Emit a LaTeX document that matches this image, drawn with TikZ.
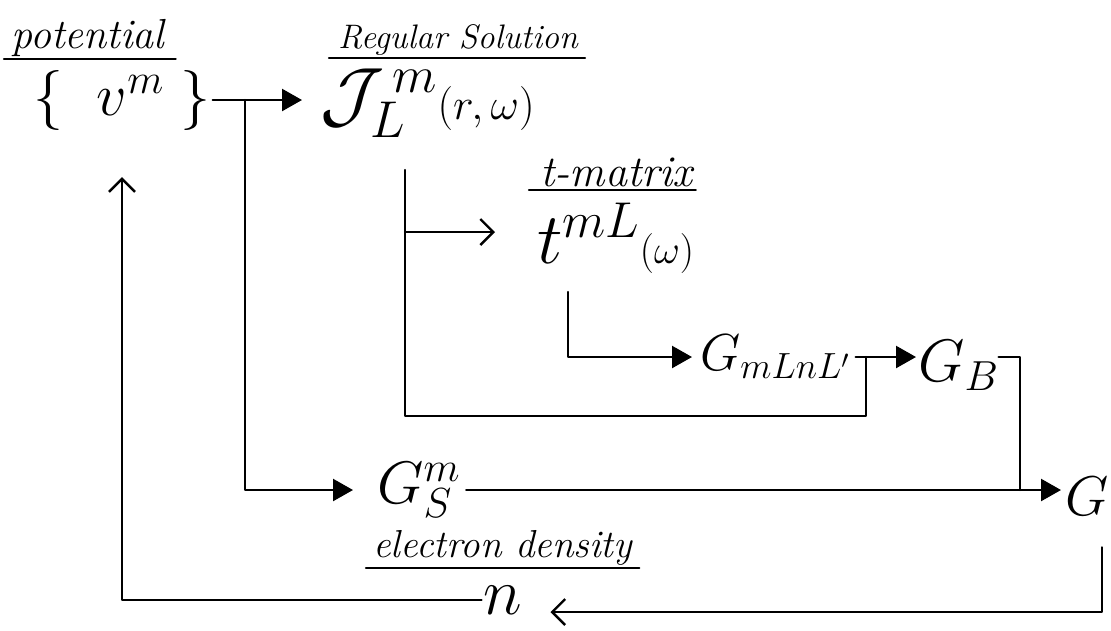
\RequirePackage{fix-cm}
\documentclass[tikz,border=0pt]{standalone}
\usetikzlibrary{arrows.meta}
\begin{document}
\begin{tikzpicture}[x=1pt,y=-1pt,line width=2.4pt,line cap=round,line join=round,
  lbl/.style={font=\fontsize{38}{38}\selectfont\itshape,inner sep=2pt},
  sym/.style={font=\fontsize{56}{56}\selectfont,inner sep=1pt},
  uline/.style={line width=2.2pt},
  farrow/.style={-{Triangle[length=20pt,width=22pt]}},
  oarrow/.style={-{Straight Barb[length=13pt,width=26pt]}}]
\useasboundingbox (0,0) rectangle (1111,630);
% labels
\node[lbl,anchor=base west,font=\fontsize{42}{42}\selectfont\itshape] (potlbl) at (8,48) {potential};
\node[lbl,anchor=base west,font=\fontsize{34}{34}\selectfont\itshape] (reglbl) at (335,48) {Regular Solution};
\node[lbl,anchor=base west,font=\fontsize{44}{44}\selectfont\itshape] (tmlbl) at (537,186) {t-matrix};
\node[lbl,anchor=base west,font=\fontsize{39}{39}\selectfont\itshape] (edlbl) at (370,557) {electron density};
\draw[uline] ([xshift=-4pt]potlbl.south west) -- ([xshift=8pt]potlbl.south east);
\draw[uline] ([xshift=-6pt]reglbl.south west) -- ([xshift=4pt]reglbl.south east);
\draw[uline] ([xshift=-8pt]tmlbl.south west) -- (tmlbl.south east);
\draw[uline] ([xshift=-4pt]edlbl.south west) -- ([xshift=4pt]edlbl.south east);
% symbols
\node[sym,font=\fontsize{60}{60}\selectfont] (vm) at (122,100) {$\{\;\; v^{m}\;\}$};
\node[sym,anchor=west] (J) at (318,103) {{\fontsize{74}{74}\selectfont$\mathcal{J}^{\,m}_{L}$}{\fontsize{44}{44}\selectfont$(r,\omega)$}};
\node[sym,anchor=west] (t) at (535,238) {{\fontsize{72}{72}\selectfont$t^{mL}$}{\fontsize{40}{40}\selectfont$(\omega)$}};
\node[sym,anchor=west,font=\fontsize{52}{52}\selectfont] (Gm) at (698,357) {$G_{mLnL'}$};
\node[sym,anchor=west,font=\fontsize{60}{60}\selectfont] (GB) at (916,365) {$G_{B}$};
\node[sym,anchor=west,font=\fontsize{60}{60}\selectfont] (GS) at (375,490) {$G^{m}_{S\,}$};
\node[sym,anchor=west,font=\fontsize{56}{56}\selectfont] (G) at (1063,496) {$G$};
\node[sym,font=\fontsize{66}{66}\selectfont] (n) at (503,600) {$n$};
% junction coordinates
\coordinate (tv) at (245,100);
\coordinate (jd) at (405,170);
\coordinate (jt) at (405,232);
\coordinate (td) at (568,292);
\coordinate (tb) at (866,357);
\coordinate (gj) at (1020,490);
\coordinate (gc) at (1102,612);
% connectors
\draw[farrow,shorten >=16pt] (vm.east) -- (vm.east -| J.west);
\draw[farrow,shorten >=22pt] (tv) |- (GS.west);
\draw (jd) -- (jd |- 0,416) -| (tb);
\draw[oarrow,shorten >=40pt] (jt) -- (jt -| t.west);
\draw[farrow,shorten >=6pt] (td) |- (Gm.west);
\draw[farrow,shorten <=4pt] (Gm.east) -- (Gm.east -| GB.west);
\draw ([xshift=-2pt]GB.east |- tb) -| (gj);
\draw[farrow,shorten <=4pt,shorten >=2pt] (GS.east) -- (GS.east -| G.west);
\draw[oarrow,shorten >=26pt] ([yshift=-30pt]G.south -| gc) -- (gc) -- (gc -| n.east);
\draw[oarrow,shorten >=45pt] (n.west) -| (vm.south);
\end{tikzpicture}
\end{document}
